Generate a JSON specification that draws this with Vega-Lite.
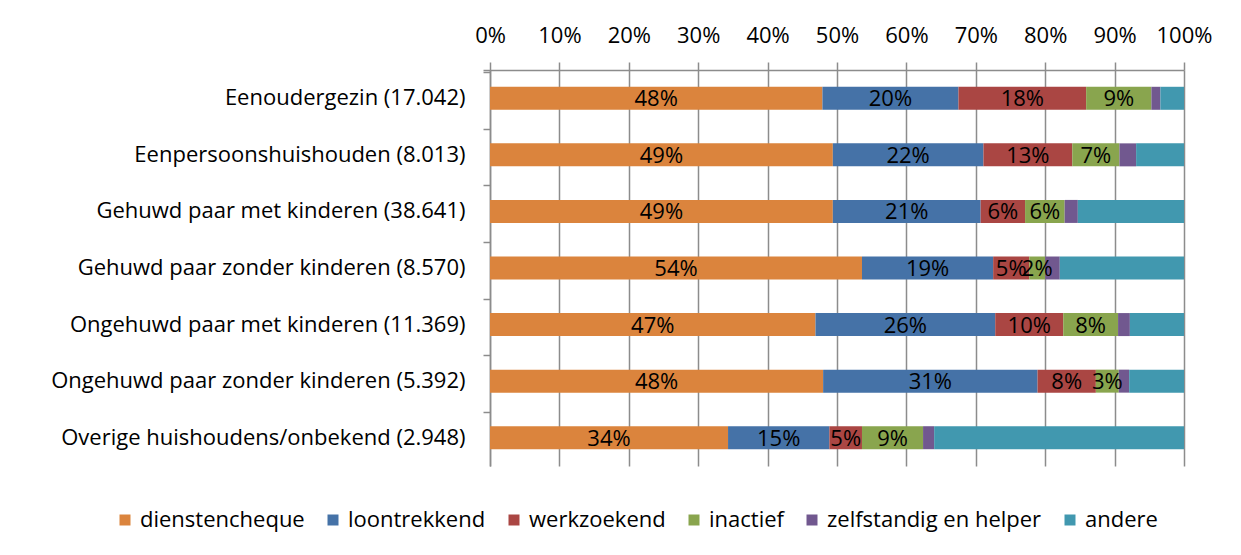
{
  "$schema": "https://vega.github.io/schema/vega-lite/v6.json",
  "width": 694,
  "height": 396,
  "autosize": {"type": "none"},
  "padding": {"left": 490, "top": 70, "right": 57, "bottom": 89},
  "background": "white",
  "config": {
    "font": "Open Sans",
    "view": {"stroke": null},
    "axis": {
      "domainColor": "#8c8c8c",
      "domainWidth": 1.5,
      "tickColor": "#8c8c8c",
      "tickWidth": 1.5,
      "gridColor": "#8c8c8c",
      "gridWidth": 1.5,
      "labelColor": "black",
      "labelFont": "Open Sans",
      "labelFontSize": 22,
      "labelLimit": 0,
      "title": null
    },
    "legend": {"labelFont": "Open Sans", "labelFontSize": 22, "labelColor": "black", "labelLimit": 0}
  },
  "data": {
    "values": [
      {"household": "Eenoudergezin (17.042)", "status": "dienstencheque", "order": 1, "value": 0.479},
      {"household": "Eenoudergezin (17.042)", "status": "loontrekkend", "order": 2, "value": 0.196},
      {"household": "Eenoudergezin (17.042)", "status": "werkzoekend", "order": 3, "value": 0.184},
      {"household": "Eenoudergezin (17.042)", "status": "inactief", "order": 4, "value": 0.094},
      {"household": "Eenoudergezin (17.042)", "status": "zelfstandig en helper", "order": 5, "value": 0.013},
      {"household": "Eenoudergezin (17.042)", "status": "andere", "order": 6, "value": 0.034},

      {"household": "Eenpersoonshuishouden (8.013)", "status": "dienstencheque", "order": 1, "value": 0.494},
      {"household": "Eenpersoonshuishouden (8.013)", "status": "loontrekkend", "order": 2, "value": 0.217},
      {"household": "Eenpersoonshuishouden (8.013)", "status": "werkzoekend", "order": 3, "value": 0.128},
      {"household": "Eenpersoonshuishouden (8.013)", "status": "inactief", "order": 4, "value": 0.068},
      {"household": "Eenpersoonshuishouden (8.013)", "status": "zelfstandig en helper", "order": 5, "value": 0.024},
      {"household": "Eenpersoonshuishouden (8.013)", "status": "andere", "order": 6, "value": 0.069},

      {"household": "Gehuwd paar met kinderen (38.641)", "status": "dienstencheque", "order": 1, "value": 0.494},
      {"household": "Gehuwd paar met kinderen (38.641)", "status": "loontrekkend", "order": 2, "value": 0.213},
      {"household": "Gehuwd paar met kinderen (38.641)", "status": "werkzoekend", "order": 3, "value": 0.064},
      {"household": "Gehuwd paar met kinderen (38.641)", "status": "inactief", "order": 4, "value": 0.057},
      {"household": "Gehuwd paar met kinderen (38.641)", "status": "zelfstandig en helper", "order": 5, "value": 0.019},
      {"household": "Gehuwd paar met kinderen (38.641)", "status": "andere", "order": 6, "value": 0.153},

      {"household": "Gehuwd paar zonder kinderen (8.570)", "status": "dienstencheque", "order": 1, "value": 0.536},
      {"household": "Gehuwd paar zonder kinderen (8.570)", "status": "loontrekkend", "order": 2, "value": 0.189},
      {"household": "Gehuwd paar zonder kinderen (8.570)", "status": "werkzoekend", "order": 3, "value": 0.052},
      {"household": "Gehuwd paar zonder kinderen (8.570)", "status": "inactief", "order": 4, "value": 0.023},
      {"household": "Gehuwd paar zonder kinderen (8.570)", "status": "zelfstandig en helper", "order": 5, "value": 0.021},
      {"household": "Gehuwd paar zonder kinderen (8.570)", "status": "andere", "order": 6, "value": 0.179},

      {"household": "Ongehuwd paar met kinderen (11.369)", "status": "dienstencheque", "order": 1, "value": 0.469},
      {"household": "Ongehuwd paar met kinderen (11.369)", "status": "loontrekkend", "order": 2, "value": 0.259},
      {"household": "Ongehuwd paar met kinderen (11.369)", "status": "werkzoekend", "order": 3, "value": 0.098},
      {"household": "Ongehuwd paar met kinderen (11.369)", "status": "inactief", "order": 4, "value": 0.079},
      {"household": "Ongehuwd paar met kinderen (11.369)", "status": "zelfstandig en helper", "order": 5, "value": 0.017},
      {"household": "Ongehuwd paar met kinderen (11.369)", "status": "andere", "order": 6, "value": 0.078},

      {"household": "Ongehuwd paar zonder kinderen (5.392)", "status": "dienstencheque", "order": 1, "value": 0.480},
      {"household": "Ongehuwd paar zonder kinderen (5.392)", "status": "loontrekkend", "order": 2, "value": 0.309},
      {"household": "Ongehuwd paar zonder kinderen (5.392)", "status": "werkzoekend", "order": 3, "value": 0.084},
      {"household": "Ongehuwd paar zonder kinderen (5.392)", "status": "inactief", "order": 4, "value": 0.033},
      {"household": "Ongehuwd paar zonder kinderen (5.392)", "status": "zelfstandig en helper", "order": 5, "value": 0.015},
      {"household": "Ongehuwd paar zonder kinderen (5.392)", "status": "andere", "order": 6, "value": 0.079},

      {"household": "Overige huishoudens/onbekend (2.948)", "status": "dienstencheque", "order": 1, "value": 0.343},
      {"household": "Overige huishoudens/onbekend (2.948)", "status": "loontrekkend", "order": 2, "value": 0.146},
      {"household": "Overige huishoudens/onbekend (2.948)", "status": "werkzoekend", "order": 3, "value": 0.047},
      {"household": "Overige huishoudens/onbekend (2.948)", "status": "inactief", "order": 4, "value": 0.088},
      {"household": "Overige huishoudens/onbekend (2.948)", "status": "zelfstandig en helper", "order": 5, "value": 0.016},
      {"household": "Overige huishoudens/onbekend (2.948)", "status": "andere", "order": 6, "value": 0.360}
    ]
  },
  "transform": [
    {"stack": "value", "groupby": ["household"], "sort": [{"field": "order", "order": "ascending"}], "as": ["v0", "v1"]},
    {"calculate": "(datum.v0 + datum.v1) / 2", "as": "mid"}
  ],
  "layer": [
    {
      "mark": {"type": "bar", "size": 23},
      "encoding": {
        "y": {
          "field": "household",
          "type": "nominal",
          "sort": null,
          "axis": {
            "bandPosition": 0,
            "tickExtra": true,
            "tickSize": 7,
            "labelPadding": 18,
            "domain": true,
            "grid": false
          }
        },
        "x": {
          "field": "v0",
          "type": "quantitative",
          "scale": {"domain": [0, 1], "nice": false},
          "axis": {
            "orient": "top",
            "format": ".0%",
            "values": [0, 0.1, 0.2, 0.3, 0.4, 0.5, 0.6, 0.7, 0.8, 0.9, 1],
            "grid": true,
            "domain": true,
            "tickSize": 8,
            "labelPadding": 15,
            "labelFlush": false
          }
        },
        "x2": {"field": "v1"},
        "color": {
          "field": "status",
          "type": "nominal",
          "scale": {
            "domain": ["dienstencheque", "loontrekkend", "werkzoekend", "inactief", "zelfstandig en helper", "andere"],
            "range": ["#DB843D", "#4572A7", "#AA4643", "#89A54E", "#71588F", "#4198AF"]
          },
          "legend": {
            "title": null,
            "orient": "none",
            "direction": "horizontal",
            "columns": 6,
            "legendX": -376,
            "legendY": 439,
            "symbolType": "square",
            "symbolSize": 121,
            "symbolStrokeWidth": 0,
            "labelOffset": 4,
            "columnPadding": 17
          }
        }
      }
    },
    {
      "transform": [{"filter": "datum.status != 'zelfstandig en helper' && datum.status != 'andere'"}],
      "mark": {"type": "text", "fontSize": 22, "color": "black", "font": "Open Sans", "baseline": "middle", "dy": 1},
      "encoding": {
        "y": {"field": "household", "type": "nominal", "sort": null},
        "x": {"field": "mid", "type": "quantitative"},
        "text": {"field": "value", "type": "quantitative", "format": ".0%"}
      }
    }
  ]
}
